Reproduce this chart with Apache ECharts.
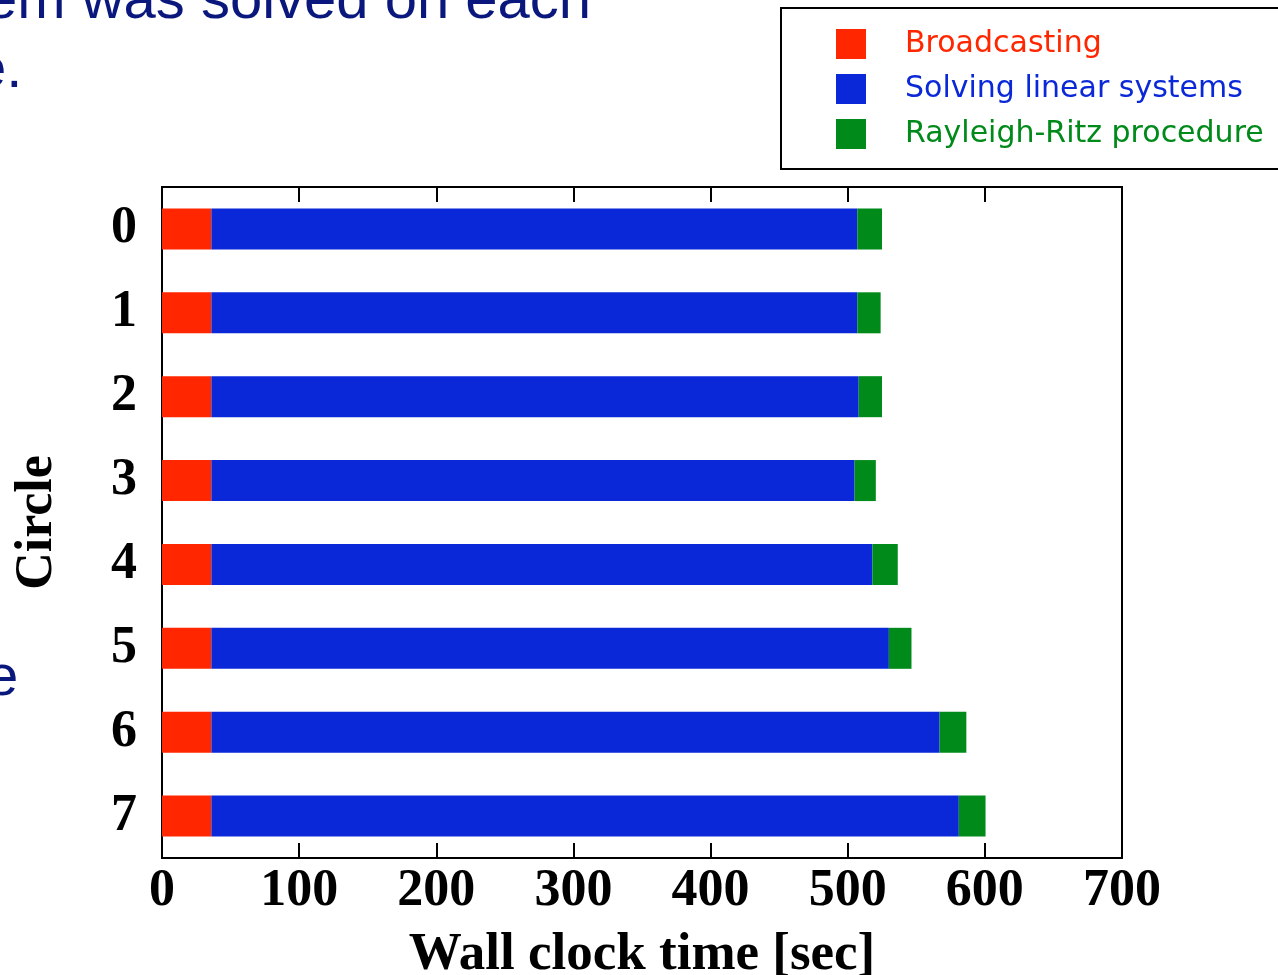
<!DOCTYPE html>
<html>
<head>
<meta charset="utf-8">
<script src="https://cdn.jsdelivr.net/npm/echarts@6/dist/echarts.min.js"></script>
<style>
  html, body { margin: 0; padding: 0; background: #ffffff; }
  #chart { width: 1278px; height: 975px; }
</style>
</head>
<body>
<div id="chart"></div>
<script>
// Circle index on the vertical axis (0 at the top)
const circles = ['0', '1', '2', '3', '4', '5', '6', '7'];

// Time spent in each phase, seconds
const broadcasting = [36, 36, 36, 36, 36, 36, 36, 36];
const solvingLinear = [471, 471, 472, 469, 482, 494, 531, 545];
const rayleighRitz = [18, 17, 17, 15.5, 18.5, 16.5, 19.5, 19.5];

const seriesNames = ['Broadcasting', 'Solving linear systems', 'Rayleigh-Ritz procedure'];
const seriesColors = ['#ff2600', '#0a28d8', '#008a1a'];

const xTicks = { min: 0, max: 700, interval: 100 };

const serif = '"Liberation Serif", "Times New Roman", serif';
const slideFont = '58px "Liberation Sans", Arial, sans-serif';
const navy = '#0a177c';

const chart = echarts.init(document.getElementById('chart'), null, { renderer: 'canvas' });

const axisLine = { show: true, lineStyle: { color: '#000', width: 2 } };
const insideTicks = { show: true, inside: true, length: 15, lineStyle: { color: '#000', width: 2 } };

function barSeries(i, values) {
  return {
    name: seriesNames[i],
    type: 'bar',
    stack: 'time',
    xAxisIndex: 0,
    barWidth: 41,
    itemStyle: { color: seriesColors[i] },
    data: values
  };
}

chart.setOption({
  backgroundColor: '#ffffff',
  animation: false,
  grid: {
    left: 162, right: 156, top: 187, bottom: 117,
    containLabel: false, outerBoundsMode: 'none',
    show: true, borderColor: '#000', borderWidth: 2, backgroundColor: 'transparent'
  },
  legend: {
    orient: 'vertical',
    left: 781, top: 8,
    padding: [21, 40, 20, 55],
    itemWidth: 30, itemHeight: 30, itemGap: 15,
    icon: 'rect',
    borderColor: '#000', borderWidth: 2,
    selectedMode: false,
    textStyle: { fontFamily: '"DejaVu Sans", sans-serif', fontSize: 30, padding: [3, 0, 0, 34] },
    data: seriesNames.map((n, i) => ({ name: n, textStyle: { color: seriesColors[i] } }))
  },
  xAxis: [
    {
      type: 'value', position: 'bottom',
      min: xTicks.min, max: xTicks.max, interval: xTicks.interval,
      axisLine, axisTick: insideTicks, splitLine: { show: false },
      axisLabel: { margin: 8, color: '#000', fontFamily: serif, fontWeight: 'bold', fontSize: 52 },
      name: 'Wall clock time [sec]', nameLocation: 'middle', nameGap: 71,
      nameTextStyle: { color: '#000', fontFamily: serif, fontWeight: 'bold', fontSize: 53 }
    },
    {
      type: 'value', position: 'top',
      min: xTicks.min, max: xTicks.max, interval: xTicks.interval,
      axisLine, axisTick: insideTicks, splitLine: { show: false },
      axisLabel: { show: false }
    }
  ],
  yAxis: {
    type: 'category', data: circles, inverse: true,
    axisLine, axisTick: { show: false }, splitLine: { show: false },
    axisLabel: { margin: 25, color: '#000', fontFamily: serif, fontWeight: 'bold', fontSize: 52 },
    name: 'Circle', nameLocation: 'middle', nameGap: 98, nameRotate: 90,
    nameTextStyle: { color: '#000', fontFamily: serif, fontWeight: 'bold', fontSize: 52 }
  },
  series: [
    barSeries(0, broadcasting),
    barSeries(1, solvingLinear),
    barSeries(2, rayleighRitz)
  ],
  graphic: [
    { type: 'text', left: -15, top: -27, style: { text: 'em was solved on each', fill: navy, font: slideFont } },
    { type: 'text', left: -26, top: 42, style: { text: 'e.', fill: navy, font: slideFont } },
    { type: 'text', left: -14, top: 650, style: { text: 'e', fill: navy, font: slideFont } }
  ]
});
</script>
</body>
</html>
